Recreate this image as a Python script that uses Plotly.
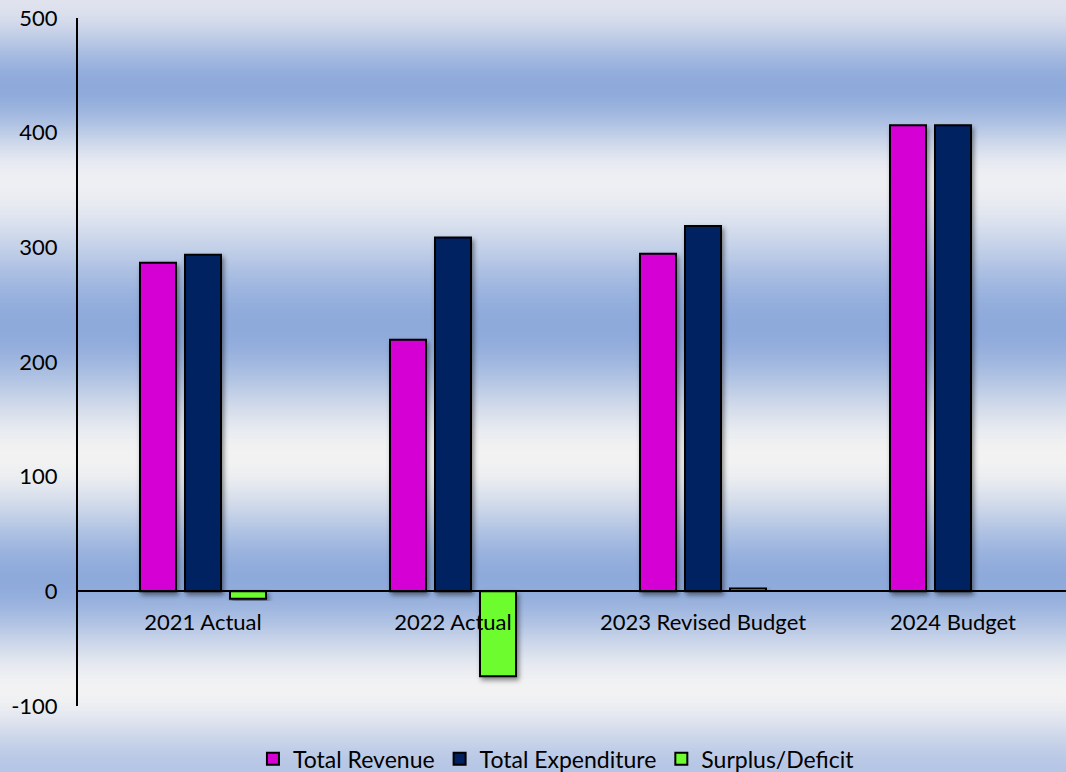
import plotly.graph_objects as go

categories = ["2021 Actual", "2022 Actual", "2023 Revised Budget", "2024 Budget"]
total_revenue = [286.5, 219.5, 294.5, 406.5]
total_expenditure = [293.5, 308.5, 318.5, 406.5]
surplus_deficit = [-6.5, -74.0, 2.5, None]

series_names = ["Total Revenue", "Total Expenditure", "Surplus/Deficit"]
series_colors = ["#d400d4", "#002060", "#6dfc2f"]
y_ticks = [-100, 0, 100, 200, 300, 400, 500]
y_tick_text = [str(v) for v in y_ticks]

W, H = 1066, 772
ML, MR, MT, MB = 78, 0, 18, 66
PW, PH = W - ML - MR, H - MT - MB

fig = go.Figure()
for name, vals, col in zip(series_names, [total_revenue, total_expenditure, surplus_deficit], series_colors):
    fig.add_trace(go.Bar(
        name=name, x=categories, y=vals,
        marker=dict(color=col, line=dict(color="#000000", width=2)),
    ))

# background gradient (pixel-row stops -> colour)
stops = [
    (0, (224, 227, 238)),
    (87, (142, 170, 219)),
    (180, (238, 239, 243)),
    (327, (142, 170, 219)),
    (457, (242, 242, 242)),
    (580, (142, 170, 219)),
    (690, (242, 242, 243)),
    (772, (182, 198, 229)),
]

def col_at(py):
    for (y0, c0), (y1, c1) in zip(stops[:-1], stops[1:]):
        if y0 <= py <= y1:
            t = (py - y0) / (y1 - y0)
            t = t * t * (3 - 2 * t)
            return tuple(round(a + (b - a) * t) for a, b in zip(c0, c1))
    return stops[-1][1]

shapes = []
step = 2
for py in range(0, H, step):
    c = col_at(py + step / 2)
    y_top = (H - MB - py) / PH
    y_bot = (H - MB - (py + step)) / PH
    shapes.append(dict(
        type="rect", xref="paper", yref="paper", layer="below",
        x0=-ML / PW - 0.01, x1=1.01, y0=y_bot - 0.0008, y1=y_top + 0.0008,
        fillcolor="rgb(%d,%d,%d)" % c, line=dict(width=0),
    ))

font_family = "Lato, 'Noto Sans', sans-serif"
fig.update_layout(
    width=W, height=H,
    margin=dict(l=ML, r=MR, t=MT, b=MB, autoexpand=False),
    paper_bgcolor="rgba(0,0,0,0)", plot_bgcolor="rgba(0,0,0,0)",
    shapes=shapes,
    barmode="group", bargap=0.46, bargroupgap=0.2,
    font=dict(family=font_family, size=22, color="#000000"),
    xaxis=dict(
        type="category", range=[-0.5, 3.452],
        anchor="free", position=100 / 600,
        showline=True, linecolor="#000000", linewidth=2,
        showgrid=False, ticks="", ticklabelstandoff=11,
        fixedrange=True,
    ),
    yaxis=dict(
        range=[-100, 500], tickvals=y_ticks, ticktext=y_tick_text,
        showline=True, linecolor="#000000", linewidth=2,
        showgrid=False, zeroline=False, ticks="", ticklabelstandoff=14,
        fixedrange=True,
    ),
    legend=dict(
        orientation="h", xref="container", yref="container",
        x=0.522, xanchor="center", y=0.017, yanchor="middle",
        font=dict(size=23), bgcolor="rgba(0,0,0,0)",
        itemwidth=30, traceorder="normal",
    ),
    showlegend=True,
)

post_js = """
document.body.style.margin='0';
document.body.style.overflow='hidden';
(function(){
  var NS='http://www.w3.org/2000/svg';
  var svg=document.querySelector('.main-svg');
  if(!svg) return;
  var defs=svg.querySelector('defs');
  if(!defs){defs=document.createElementNS(NS,'defs');svg.insertBefore(defs,svg.firstChild);}
  var f=document.createElementNS(NS,'filter');
  f.setAttribute('id','barshadow');
  f.setAttribute('x','-20%');f.setAttribute('y','-20%');
  f.setAttribute('width','140%');f.setAttribute('height','140%');
  var d=document.createElementNS(NS,'feDropShadow');
  d.setAttribute('dx','2');d.setAttribute('dy','3');
  d.setAttribute('stdDeviation','2.5');
  d.setAttribute('flood-color','#000');d.setAttribute('flood-opacity','0.45');
  f.appendChild(d);defs.appendChild(f);
  document.querySelectorAll('.barlayer .point').forEach(function(p){
    p.setAttribute('filter','url(#barshadow)');
  });
})();
"""

fig.write_html("out.html", config={"displayModeBar": False}, post_script=post_js)
